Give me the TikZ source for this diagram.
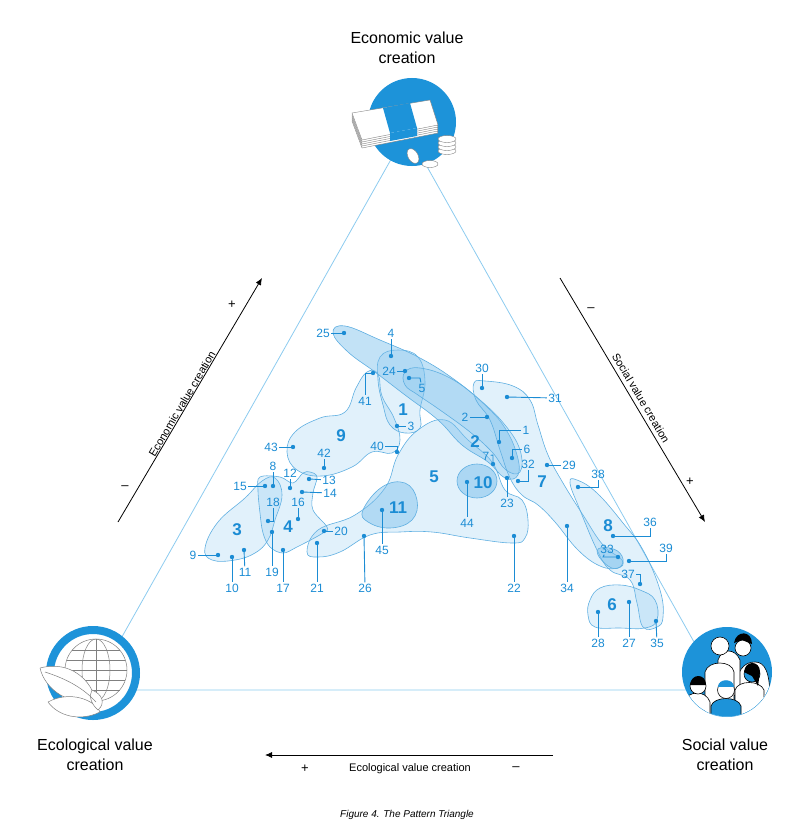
\documentclass[tikz,border=0pt]{standalone}
\usepackage{fontspec}
\setmainfont{Liberation Sans}
\usetikzlibrary{arrows.meta,positioning,calc}
\definecolor{pblue}{RGB}{27,140,212}
\definecolor{iblue}{RGB}{29,147,217}
\definecolor{tline}{RGB}{140,203,239}
\definecolor{bfill}{RGB}{120,190,236}
\newcommand{\pin}[3]{% dot, label position, number
  \node[num] (t) at (#2) {#3};
  \draw[lead] (#1) -- (t);
  \fill[pblue] (#1) circle (2.2);}
\newcommand{\pinb}[4]{% dot, bend, label position, number
  \node[num] (t) at (#3) {#4};
  \draw[lead] (#1) -- (#2) -- (t);
  \fill[pblue] (#1) circle (2.2);}

\begin{document}
\begin{tikzpicture}[x=1pt,y=-1pt,
  num/.style={text=pblue,font=\fontsize{12}{12}\selectfont,inner sep=1.2pt},
  pat/.style={text=pblue,font=\fontsize{17}{17}\selectfont\bfseries},
  lead/.style={pblue,line width=0.9pt},
  blob/.style={draw=pblue!70,line width=0.6pt,fill=bfill,fill opacity=0.22},
  dark/.style={blob,fill opacity=0.45},
  icon/.style={draw=gray,fill=white,line width=0.4pt},
  title/.style={align=center,font=\fontsize{16}{20}\selectfont},
  axis/.style={font=\fontsize{11}{11}\selectfont},
  sign/.style={font=\fontsize{13}{13}\selectfont}]
  \useasboundingbox (0,0) rectangle (805,840);

  % triangle
  \coordinate (top) at (407,131);
  \coordinate (left) at (92,690);
  \coordinate (right) at (721,690);
  \draw[tline,line width=0.8pt] (top) -- (left) -- (right) -- cycle;

  % patterns
  \draw[blob] plot[smooth cycle,tension=0.7] coordinates {(307,552) (318,530) (355,515) (385,488) (398,455) (418,430) (445,420) (468,440) (492,462) (505,490) (522,500) (528,520) (525,538) (512,543) (470,538) (432,532) (400,532) (370,535) (340,552) (318,557)};
  \draw[blob] plot[smooth cycle,tension=0.7] coordinates {(367,372) (378,374) (382,396) (394,418) (400,440) (392,453) (372,452) (352,467) (322,476) (297,470) (287,452) (295,432) (320,418) (345,412) (356,388)};
  \draw[blob] plot[smooth cycle,tension=0.7] coordinates {(380,357) (398,350) (418,357) (425,382) (420,410) (420,428) (405,433) (390,425) (383,405) (378,380)};
  \draw[dark] plot[smooth cycle,tension=0.7] coordinates {(333,333) (345,326) (380,340) (420,358) (455,380) (485,405) (505,428) (517,455) (518,475) (505,478) (488,462) (462,445) (438,420) (405,395) (375,372) (348,352)};
  \draw[blob] plot[smooth cycle,tension=0.7] coordinates {(405,372) (420,368) (450,378) (480,400) (505,425) (520,450) (520,472) (506,470) (492,452) (470,432) (440,410) (418,395) (405,385)};
  \draw[blob] plot[smooth cycle,tension=0.7] coordinates {(474,383) (485,381) (513,386) (530,400) (538,425) (548,455) (563,483) (583,515) (603,545) (622,560) (618,568) (600,566) (578,550) (555,522) (538,505) (522,495) (510,478) (500,450) (490,420) (476,400)};
  \draw[blob] plot[smooth cycle,tension=0.7] coordinates {(570,483) (577,480) (597,493) (623,523) (643,550) (660,590) (663,617) (657,627) (643,627) (637,603) (630,580) (610,570) (597,550) (580,510)};
  \draw[dark] plot[smooth cycle,tension=0.8] coordinates {(597,551) (610,548) (622,556) (620,567) (608,566)};
  \draw[blob] plot[smooth cycle,tension=0.7] coordinates {(590,600) (600,588) (620,585) (640,590) (655,600) (657,620) (645,628) (620,628) (595,627) (588,615)};
  \draw[blob] plot[smooth cycle,tension=0.7] coordinates {(205,548) (218,522) (245,498) (262,481) (275,478) (282,495) (275,520) (268,540) (255,553) (235,560) (212,560)};
  \draw[blob] plot[smooth cycle,tension=0.6] coordinates {(260,477) (280,477) (293,483) (303,473) (310,472) (317,477) (313,493) (313,510) (327,527) (323,533) (297,547) (283,553) (270,547) (263,533) (260,513) (258,490)};
  \draw[dark] plot[smooth cycle,tension=0.7] coordinates {(363,510) (382,487) (405,483) (417,500) (412,520) (390,528) (368,522)};
  \draw[dark,fill opacity=0.5] (477,481) ellipse (20 and 17);

  % pattern numbers
  \node[pat] (p1) at (403,410) {1};
  \node[pat] (p2) at (475,442) {2};
  \node[pat] (p3) at (237,530) {3};
  \node[pat] (p4) at (288,527) {4};
  \node[pat] (p5) at (434,477) {5};
  \node[pat] (p6) at (612,605) {6};
  \node[pat] (p7) at (542,482) {7};
  \node[pat] (p8) at (608,526) {8};
  \node[pat] (p9) at (341,436) {9};
  \node[pat] (p10) at (483,483) {10};
  \node[pat] (p11) at (398,508) {11};

  % examples
  \pin{344,333}{323,333}{25}
  \pin{391,356}{391,333}{4}
  \pin{405,371}{389,371}{24}
  \pinb{409,378}{420,378}{422,388}{5}
  \pinb{373,373}{365,373}{365,401}{41}
  \pin{397,426}{411,426}{3}
  \pinb{397,452}{397,446}{377,446}{40}
  \pin{293,447}{271,447}{43}
  \pin{324,468}{324,453}{42}
  \pin{273,486}{273,466}{8}
  \pin{265,486}{240,486}{15}
  \pin{290,488}{290,473}{12}
  \pin{309,479}{329,480}{13}
  \pin{302,492}{330,493}{14}
  \pin{298,519}{298,502}{16}
  \pinb{268,521}{273,521}{273,502}{18}
  \pin{218,555}{193,555}{9}
  \pin{232,557}{232,588}{10}
  \pin{244,550}{245,572}{11}
  \pin{272,532}{272,572}{19}
  \pin{283,550}{283,588}{17}
  \pin{317,543}{317,588}{21}
  \pin{324,531}{341,531}{20}
  \pin{364,536}{365,588}{26}
  \pin{382,510}{382,550}{45}
  \pin{482,388}{482,368}{30}
  \pin{507,397}{555,398}{31}
  \pin{487,417}{465,417}{2}
  \pinb{499,442}{499,430}{526,430}{1}
  \pinb{512,458}{512,449}{527,449}{6}
  \pinb{493,464}{493,455}{486,456}{7}
  \pinb{518,481}{528,481}{528,464}{32}
  \pin{507,478}{507,503}{23}
  \pin{547,465}{569,465}{29}
  \pin{467,482}{467,523}{44}
  \pin{514,536}{514,588}{22}
  \pin{567,526}{567,588}{34}
  \pinb{578,487}{598,487}{598,474}{38}
  \pinb{613,536}{650,536}{650,522}{36}
  \pinb{618,557}{603,557}{607,549}{33}
  \pinb{629,561}{666,561}{666,548}{39}
  \pinb{640,584}{640,574}{628,574}{37}
  \pin{598,612}{598,643}{28}
  \pin{629,602}{629,643}{27}
  \pin{656,621}{657,643}{35}

  % axes
  \draw[-{Latex[length=7pt,width=6pt]},line width=0.8pt] (118,522) -- (262,278);
  \node[sign] at (232,305) {+};
  \node[sign] at (125,488) {--};
  \node[axis,rotate=59.4] at (182,404) {Economic value creation};
  \draw[-{Latex[length=7pt,width=6pt]},line width=0.8pt] (560,278) -- (705,522);
  \node[sign] at (591,310) {--};
  \node[sign] at (690,482) {+};
  \node[axis,rotate=-59.3] at (641,398) {Social value creation};
  \draw[-{Latex[length=7pt,width=6pt]},line width=0.8pt] (553,755) -- (265,755);
  \node[sign] at (305,769) {+};
  \node[sign] at (516,769) {--};
  \node[axis] at (410,769) {Ecological value creation};

  % economic icon
  \fill[iblue] (412,122) circle (44);
  \foreach \i in {8,6,4,2,0}
    \draw[icon] (352,113+\i) -- (430,100+\i) -- (438,125+\i) -- (362,140+\i) -- cycle;
  \fill[iblue] (383,108) -- (410,103) -- (417,128) -- (390,133) -- cycle;
  \fill[iblue] (390,133) -- (417,128) -- (417,136) -- (390,141) -- cycle;
  \foreach \j in {0,1,2,3}
    \draw[icon] (447,151-\j*4) ellipse (9 and 3.5);
  \draw[icon] (430,164) ellipse (8 and 3.5);
  \draw[icon,rotate around={-60:(413,156)}] (413,156) ellipse (8 and 5);
  \node[title] (econ) at (407,48) {Economic value\\creation};

  % ecological icon
  \fill[white] (93,673) circle (47);
  \draw[iblue,line width=8pt] (93,673) circle (43);
  \begin{scope}[gray,line width=0.5pt]
    \fill[white] (96,670) circle (32);
    \draw (96,670) circle (31);
    \draw (96,670) ellipse (14 and 31);
    \draw (96,639) -- (96,701);
    \foreach \y in {-20,-10,0,10,20} \draw ({96-sqrt(961-\y*\y)},670+\y) -- ({96+sqrt(961-\y*\y)},670+\y);
    \draw[fill=white] (40,668) .. controls (70,660) and (92,680) .. (96,702) .. controls (70,706) and (45,690) .. (40,668);
    \draw[fill=white] (48,702) .. controls (70,690) and (95,700) .. (100,712) .. controls (80,722) and (58,716) .. (48,702);
    \draw[fill=white] (92,690) .. controls (88,696) and (92,705) .. (98,710) .. controls (106,703) and (102,694) .. (92,690);
    \draw (45,672) .. controls (70,680) and (85,690) .. (96,702);
  \end{scope}
  \node[title] (eco) at (95,755) {Ecological value\\creation};

  % social icon
  \fill[iblue] (727,672) circle (45);
  \begin{scope}[line width=0.6pt]
    \clip (727,672) circle (44.5);
    \draw[fill=white] (735,700) .. controls (735,668) and (745,662) .. (755,662) .. controls (765,662) and (770,672) .. (770,700) -- cycle;
    \draw[fill=white] (718,682) -- (718,660) .. controls (722,648) and (735,648) .. (740,660) -- (740,700) -- cycle;
    \draw[fill=white] (743,648) circle (8);
    \fill[black] (734,643) .. controls (736,630) and (752,630) .. (752,644) -- (742,640) -- cycle;
    \draw[fill=white] (705,720) -- (705,672) .. controls (708,660) and (732,660) .. (734,672) -- (734,720) -- cycle;
    \draw[fill=white] (720,646) circle (9);
    \draw[fill=white] (735,720) -- (735,690) .. controls (738,680) and (760,680) .. (764,690) -- (764,720) -- cycle;
    \draw[fill=iblue] (752,674) circle (8);
    \fill[black] (744,672) .. controls (745,660) and (760,660) .. (760,672) -- (758,686) -- (752,676) -- cycle;
    \draw[fill=white] (684,720) -- (684,702) .. controls (688,690) and (706,690) .. (710,702) -- (710,720) -- cycle;
    \draw[fill=white] (698,686) circle (8);
    \fill[black] (690,685) .. controls (691,673) and (706,673) .. (706,685) -- cycle;
    \draw[fill=iblue] (711,720) -- (711,706) .. controls (714,696) and (738,696) .. (741,706) -- (741,720) -- cycle;
    \draw[fill=white] (726,690) circle (8.5);
    \fill[iblue] (718,687) .. controls (718,678) and (734,678) .. (734,687) -- cycle;
  \end{scope}
  \node[title] (soc) at (725,755) {Social value\\creation};

  \node[font=\fontsize{10}{10}\selectfont\itshape] (cap) at (407,815) {Figure 4. The Pattern Triangle};
\end{tikzpicture}
\end{document}
